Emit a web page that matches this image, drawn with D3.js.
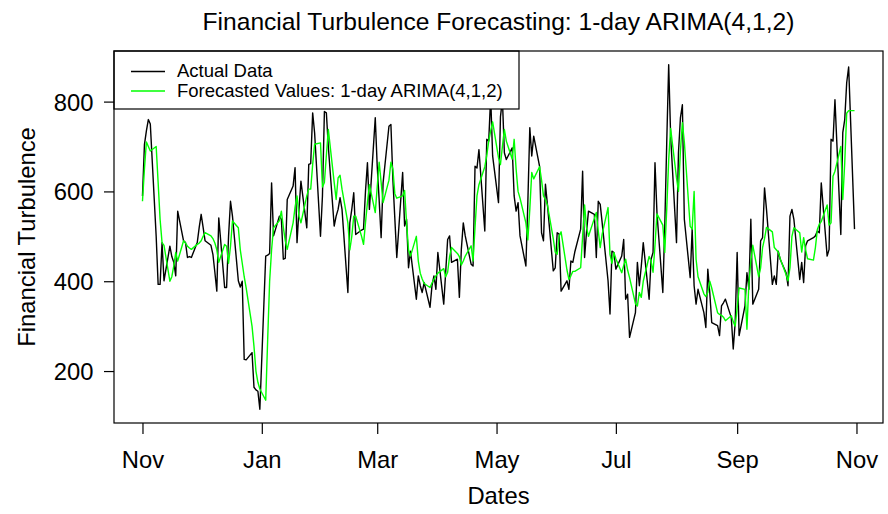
<!DOCTYPE html>
<html>
<head>
<meta charset="utf-8">
<script src="https://cdn.jsdelivr.net/npm/d3@7"></script>
<style>
  html, body { margin: 0; padding: 0; background: #fff; }
  svg { display: block; font-family: "Liberation Sans", Arial, Helvetica, sans-serif; }
</style>
</head>
<body>
<svg id="chart" width="888" height="514"></svg>
<script>
// Daily (weekday) financial turbulence index and its 1-day-ahead ARIMA(4,1,2) forecast
const startDate = "2010-11-01";

const actualValues = [
  590, 704, 735, 760, 750,
  500, 393, 393, 486, 401,
  478, 455, 442, 412, 556,
  490, 486, 453, 455, 453,
  486, 520, 549, 520, 490,
  480, 460, 420, 378, 541,
  386, 386, 500, 578, 545,
  401, 387, 400, 226, 225,
  241, 164, 158, 155, 115,
  456, 458, 462, 619, 501,
  545, 538, 449, 451, 582,
  612, 653, 486, 560, 623,
  519, 660, 662, 775, 730,
  500, 590, 778, 775, 700,
  523, 545, 560, 586, 560,
  375, 530, 560, 597, 504,
  514, 516, 600, 664, 560,
  764, 656, 580, 497, 619,
  745, 749, 627, 540, 453,
  642, 523, 538, 430, 467,
  360, 412, 390, 375, 397,
  342, 390, 412, 382, 464,
  349, 420, 493, 501, 442,
  449, 364, 471, 530, 501,
  438, 434, 656, 652, 693,
  512, 716, 712, 812, 679,
  575, 766, 805, 686, 671,
  697, 590, 556, 575, 501,
  434, 575, 742, 679, 723,
  656, 508, 490, 616, 571,
  423, 430, 508, 505, 378,
  401, 382, 445, 442, 465,
  516, 645, 453, 510, 556,
  549, 453, 578, 571, 530,
  401, 327, 467, 464, 427,
  456, 493, 360, 371, 275,
  330, 442, 390, 434, 486,
  360, 449, 464, 664, 553,
  375, 523, 708, 882, 723,
  486, 686, 764, 793, 538,
  408, 516, 390, 349, 382,
  330, 297, 427, 375, 308,
  301, 279, 345, 352, 360,
  319, 249, 308, 464, 279,
  345, 419, 382, 538, 349,
  382, 490, 497, 608, 560,
  393, 412, 393, 467, 449,
  419, 390, 545, 560, 538,
  404, 442, 397, 479, 490,
  497, 501, 512, 508, 619,
  456, 471, 716, 712, 804,
  504, 731, 760, 842, 877,
  516
];

const forecastValues = [
  578, 650, 710, 700, 690,
  700, 620, 538, 486, 480,
  400, 410, 434, 464, 445,
  490, 485, 478, 474, 471,
  482, 485, 490, 500, 508,
  501, 495, 485, 470, 442,
  482, 478, 440, 478, 534,
  519, 470, 440, 410, 385,
  300, 255, 200, 175, 160,
  135, 270, 400, 470, 519,
  535, 556, 520, 490, 471,
  530, 565, 590, 545, 530,
  590, 605, 605, 660, 705,
  708, 610, 620, 680, 738,
  620, 582, 630, 636, 605,
  530, 470, 500, 545, 545,
  500, 482, 530, 575, 615,
  553, 610, 665, 620, 575,
  625, 665, 650, 595, 585,
  590, 602, 530, 470, 456,
  500, 445, 418, 405, 395,
  386, 396, 404, 412, 418,
  428, 410, 420, 455, 475,
  462, 455, 436, 445, 456,
  479, 445, 520, 590, 615,
  655, 680, 712, 735, 755,
  675, 660, 700, 738, 712,
  672, 716, 650, 600, 585,
  530, 492, 560, 642, 628,
  655, 625, 590, 582, 570,
  495, 465, 460, 500, 510,
  425, 404, 412, 422, 422,
  430, 500, 570, 520, 500,
  540, 553, 512, 475, 505,
  564, 460, 440, 464, 450,
  419, 435, 449, 425, 408,
  350, 345, 375, 364, 400,
  455, 445, 420, 480, 550,
  525, 464, 560, 670, 740,
  630, 600, 690, 753, 710,
  522, 516, 600, 449, 410,
  372, 366, 375, 400, 385,
  330, 326, 324, 320, 312,
  323, 310, 300, 340, 385,
  382, 293, 395, 445, 480,
  410, 430, 475, 495, 520,
  510, 475, 470, 465, 450,
  415, 401, 430, 500, 519,
  508, 465, 497, 470, 450,
  447, 475, 515, 527, 533,
  570, 525, 530, 634, 645,
  700, 582, 664, 774, 780,
  780
];

const xTickDates = ["2010-11-01", "2011-01-01", "2011-03-01", "2011-05-01", "2011-07-01", "2011-09-01", "2011-11-01"];
const yTickValues = [200, 400, 600, 800];

const seriesLabels = ["Actual Data", "Forecasted Values: 1-day ARIMA(4,1,2)"];
const seriesColors = ["#000000", "#00ff00"];

const titleText = "Financial Turbulence Forecasting: 1-day ARIMA(4,1,2)";
const xTitle = "Dates";
const yTitle = "Financial Turbulence";

// ---- dates: consecutive weekdays from the start date ----
const parse = d3.utcParse("%Y-%m-%d");
const dates = [];
{
  let d = parse(startDate);
  while (dates.length < actualValues.length) {
    const wd = d.getUTCDay();
    if (wd !== 0 && wd !== 6) dates.push(d);
    d = d3.utcDay.offset(d, 1);
  }
}
const actual = dates.map((d, i) => ({ date: d, value: actualValues[i] }));
const forecast = dates.map((d, i) => ({ date: d, value: forecastValues[i] }));

// ---- plot region ----
const plot = { left: 114, right: 883, top: 51, bottom: 423 };

// 4% padding on each side of the data range
function padded(lo, hi) {
  const p = (hi - lo) * 0.04;
  return [lo - p, hi + p];
}
const t0 = +dates[0], t1 = +dates[dates.length - 1];
const xDom = padded(t0, t1).map(v => new Date(v));
const allVals = actualValues.concat(forecastValues);
const yDom = padded(d3.min(allVals), d3.max(allVals));

const x = d3.scaleUtc().domain(xDom).range([plot.left, plot.right]);
const y = d3.scaleLinear().domain(yDom).range([plot.bottom, plot.top]);

const svg = d3.select("#chart");

// ---- series lines ----
const line = d3.line().x(d => x(d.date)).y(d => y(d.value));
svg.append("path").datum(actual)
  .attr("fill", "none").attr("stroke", seriesColors[0])
  .attr("stroke-width", 1.4).attr("stroke-linejoin", "round")
  .attr("d", line);
svg.append("path").datum(forecast)
  .attr("fill", "none").attr("stroke", seriesColors[1])
  .attr("stroke-width", 1.4).attr("stroke-linejoin", "round")
  .attr("d", line);

// ---- axes ----
const fontSize = 23.8;
const xAxis = d3.axisBottom(x)
  .tickValues(xTickDates.map(parse))
  .tickFormat(d3.utcFormat("%b"))
  .tickSize(11).tickSizeOuter(0);
const gx = svg.append("g").attr("transform", `translate(0,${plot.bottom})`).call(xAxis);
gx.select(".domain").remove();
gx.selectAll(".tick line").attr("stroke", "#000").attr("stroke-width", 1.2);
gx.selectAll(".tick text")
  .attr("y", 45).attr("dy", null)
  .attr("font-size", fontSize).attr("font-family", null).attr("fill", "#000");

const yAxis = d3.axisLeft(y).tickValues(yTickValues).tickSize(10).tickSizeOuter(0);
const gy = svg.append("g").attr("transform", `translate(${plot.left},0)`).call(yAxis);
gy.select(".domain").remove();
gy.selectAll(".tick line").attr("stroke", "#000").attr("stroke-width", 1.2);
gy.selectAll(".tick text")
  .attr("x", -20.5).attr("dy", "0.36em")
  .attr("font-size", fontSize).attr("font-family", null).attr("fill", "#000");

// ---- legend (top-left, white background over the lines) ----
const lg = svg.append("g");
lg.append("rect")
  .attr("x", plot.left).attr("y", plot.top)
  .attr("width", 405).attr("height", 58)
  .attr("fill", "#fff").attr("stroke", "#000").attr("stroke-width", 1.2);
seriesLabels.forEach((lab, i) => {
  const cy = 71.5 + i * 19.5;
  lg.append("line")
    .attr("x1", 131).attr("x2", 165).attr("y1", cy).attr("y2", cy)
    .attr("stroke", seriesColors[i]).attr("stroke-width", 1.4);
  lg.append("text")
    .attr("x", 177).attr("y", cy + 5.5)
    .attr("font-size", 18.5).attr("fill", "#000")
    .text(lab);
});

// ---- plot frame ----
svg.append("rect")
  .attr("x", plot.left).attr("y", plot.top)
  .attr("width", plot.right - plot.left).attr("height", plot.bottom - plot.top)
  .attr("fill", "none").attr("stroke", "#000").attr("stroke-width", 1.2);

// ---- titles ----
svg.append("text")
  .attr("x", (plot.left + plot.right) / 2).attr("y", 30)
  .attr("text-anchor", "middle").attr("font-size", 24.6)
  .text(titleText);
svg.append("text")
  .attr("x", (plot.left + plot.right) / 2).attr("y", 504)
  .attr("text-anchor", "middle").attr("font-size", fontSize)
  .text(xTitle);
svg.append("text")
  .attr("transform", `translate(35,${(plot.top + plot.bottom) / 2}) rotate(-90)`)
  .attr("text-anchor", "middle").attr("font-size", fontSize)
  .text(yTitle);
</script>
</body>
</html>
